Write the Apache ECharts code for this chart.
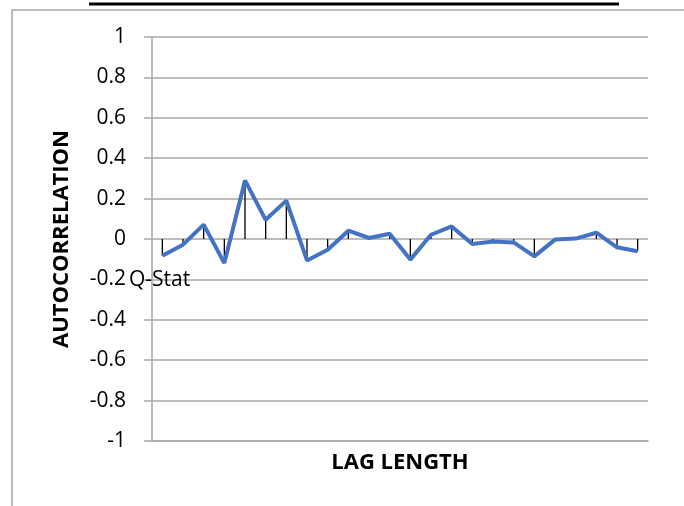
<!DOCTYPE html>
<html>
<head>
<meta charset="utf-8">
<script src="https://cdn.jsdelivr.net/npm/echarts@6/dist/echarts.min.js"></script>
<style>
html,body{margin:0;padding:0;background:#fff;}
#c{width:684px;height:506px;}
</style>
</head>
<body>
<div id="c"></div>
<script>
var lags = ['1','2','3','4','5','6','7','8','9','10','11','12','13','14','15','16','17','18','19','20','21','22','23','24'];
var autocorr = [-0.083,-0.028,0.071,-0.119,0.290,0.095,0.190,-0.106,-0.053,0.041,0.005,0.026,-0.102,0.021,0.062,-0.025,-0.012,-0.017,-0.086,-0.003,0.002,0.031,-0.041,-0.061];
var yTicks = [-1,-0.8,-0.6,-0.4,-0.2,0,0.2,0.4,0.6,0.8,1];
var seriesLabel = 'Q-Stat';

var FONT = '"Open Sans", "Liberation Sans", sans-serif';
var chart = echarts.init(document.getElementById('c'), null, {renderer:'canvas'});
chart.setOption({
  animation:false,
  backgroundColor:'#fff',
  grid:{left:152, right:36, top:37, bottom:65, containLabel:false},
  xAxis:{
    type:'category', data:lags, boundaryGap:true,
    axisLine:{onZero:false, lineStyle:{color:'#a6a6a6', width:1.5}},
    axisTick:{show:false},
    axisLabel:{show:false},
    splitLine:{show:false},
    name:'LAG LENGTH', nameLocation:'middle', nameGap:11,
    nameTextStyle:{fontFamily:FONT, fontWeight:'bold', fontSize:22, color:'#000', verticalAlign:'top'}
  },
  yAxis:{
    type:'value', min:yTicks[0], max:yTicks[yTicks.length-1], interval:0.2,
    axisLine:{show:true, lineStyle:{color:'#a6a6a6', width:1.5}},
    axisTick:{show:true, length:8, lineStyle:{color:'#a6a6a6', width:1.5}},
    axisLabel:{fontFamily:FONT, fontSize:21, color:'#000', margin:26,
      formatter:function(v){return String(Math.round(v*10)/10);}},
    splitLine:{show:true, lineStyle:{color:'#a6a6a6', width:1.5}},
    name:'AUTOCORRELATION', nameLocation:'middle', nameGap:79, nameRotate:90,
    nameTextStyle:{fontFamily:FONT, fontWeight:'bold', fontSize:22, color:'#000'}
  },
  series:[
    {type:'bar', data:autocorr, barWidth:1.3, itemStyle:{color:'#000'}, z:1, silent:true},
    {type:'line', data:autocorr, symbol:'none', lineStyle:{color:'#4472C4', width:4}, z:3, silent:true}
  ],
  graphic:[
    {type:'line', shape:{x1:89, y1:4, x2:619, y2:4}, style:{stroke:'#000', lineWidth:3}},
    {type:'polyline', shape:{points:[[684,10],[12,10],[12,506]]}, style:{stroke:'#a6a6a6', lineWidth:1.5, fill:null}},
    {type:'text', x:129, y:280, style:{text:seriesLabel, fontFamily:FONT, fontSize:21, fill:'#000', textVerticalAlign:'middle', verticalAlign:'middle'}, z:10}
  ]
});
</script>
</body>
</html>
